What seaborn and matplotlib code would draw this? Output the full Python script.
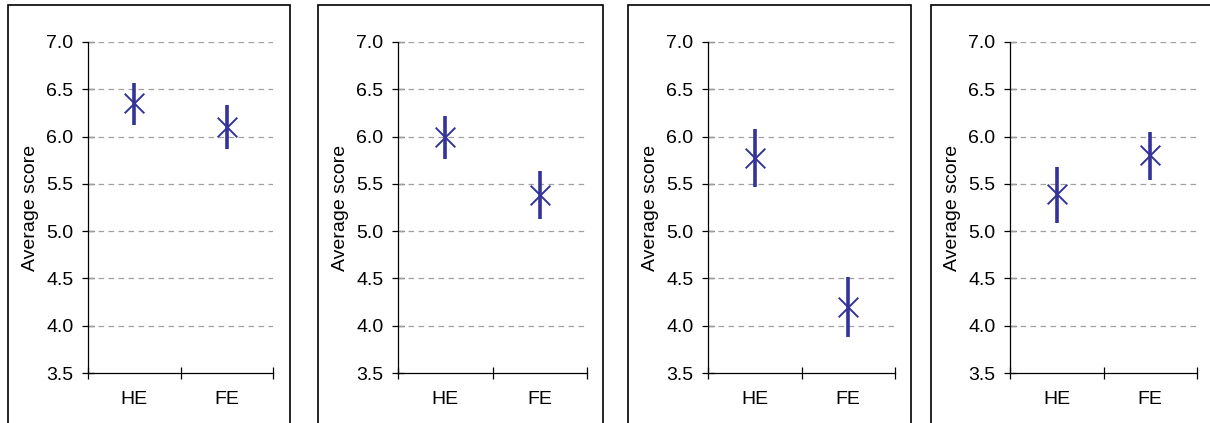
import numpy as np
import pandas as pd
import matplotlib
matplotlib.use("Agg")
import matplotlib.pyplot as plt
import seaborn as sns
from matplotlib.patches import Rectangle

sns.set_style("white")
plt.rcParams["font.family"] = ["Liberation Sans", "DejaVu Sans"]
plt.rcParams["text.color"] = "black"
plt.rcParams["xtick.color"] = "black"
plt.rcParams["ytick.color"] = "black"
plt.rcParams["axes.labelcolor"] = "black"

# data
groups = ["HE", "FE"]
mean_1 = [6.35, 6.10]
low_1 = [6.12, 5.87]
high_1 = [6.57, 6.33]
mean_2 = [6.00, 5.38]
low_2 = [5.76, 5.13]
high_2 = [6.22, 5.64]
mean_3 = [5.77, 4.20]
low_3 = [5.47, 3.88]
high_3 = [6.08, 4.51]
mean_4 = [5.39, 5.80]
low_4 = [5.09, 5.54]
high_4 = [5.68, 6.05]
yticks = [3.5, 4.0, 4.5, 5.0, 5.5, 6.0, 6.5, 7.0]

panels = [(mean_1, low_1, high_1), (mean_2, low_2, high_2),
          (mean_3, low_3, high_3), (mean_4, low_4, high_4)]

W, H = 1210, 423
col = "#333399"
fig = plt.figure(figsize=(W / 100, H / 100), dpi=100)

# axes left/right edges in pixels, and the outer frames
ax_lr = [(88, 273), (398, 587), (708, 895), (1010, 1197)]
frames = [(8, 290), (318, 603), (628, 911), (931, 1230)]
top_px, bot_px = 42, 373

for (fl, fr) in frames:
    fig.patches.append(Rectangle((fl / W, -0.1), (fr - fl) / W, 1.1 - 5 / H,
                                 transform=fig.transFigure, fill=False,
                                 edgecolor="black", linewidth=1.2))

for (m, lo, hi), (l, r) in zip(panels, ax_lr):
    ax = fig.add_axes([l / W, 1 - bot_px / H, (r - l) / W, (bot_px - top_px) / H])
    df = pd.DataFrame({"group": groups, "mean": m, "low": lo, "high": hi})
    ax.vlines(df["group"], df["low"], df["high"], color=col, linewidth=2.6, zorder=3)
    sns.scatterplot(data=df, x="group", y="mean", marker="x", s=200,
                    color=col, linewidth=1.4, ax=ax, zorder=4)
    ax.set_xlim(-0.5, 1.5)
    ax.set_ylim(3.5, 7.0)
    ax.set_yticks(yticks)
    ax.set_yticklabels([f"{v:.1f}" for v in yticks])
    for v in yticks[1:]:
        ax.axhline(v, color="#a0a0a0", linewidth=0.9, linestyle=(0, (4.5, 3.5)), zorder=1)
    ax.set_xticks([0, 1])
    ax.set_xticklabels(groups)
    ax.set_xticks([-0.5, 0.5, 1.5], minor=True)
    ax.tick_params(axis="x", which="major", length=0, pad=13, labelsize=14)
    ax.tick_params(axis="x", which="minor", direction="inout", length=9, width=0.9,
                   bottom=True)
    ax.tick_params(axis="y", direction="inout", length=9, width=0.9, pad=6,
                   labelsize=14, left=True)
    ax.set_xlabel("")
    ax.set_ylabel("Average score", fontsize=14, labelpad=5)
    for s in ["top", "right"]:
        ax.spines[s].set_visible(False)
    for s in ["left", "bottom"]:
        ax.spines[s].set_color("black")
        ax.spines[s].set_linewidth(0.9)
    ax.set_facecolor("none")

fig.savefig("out.png", dpi=100)
